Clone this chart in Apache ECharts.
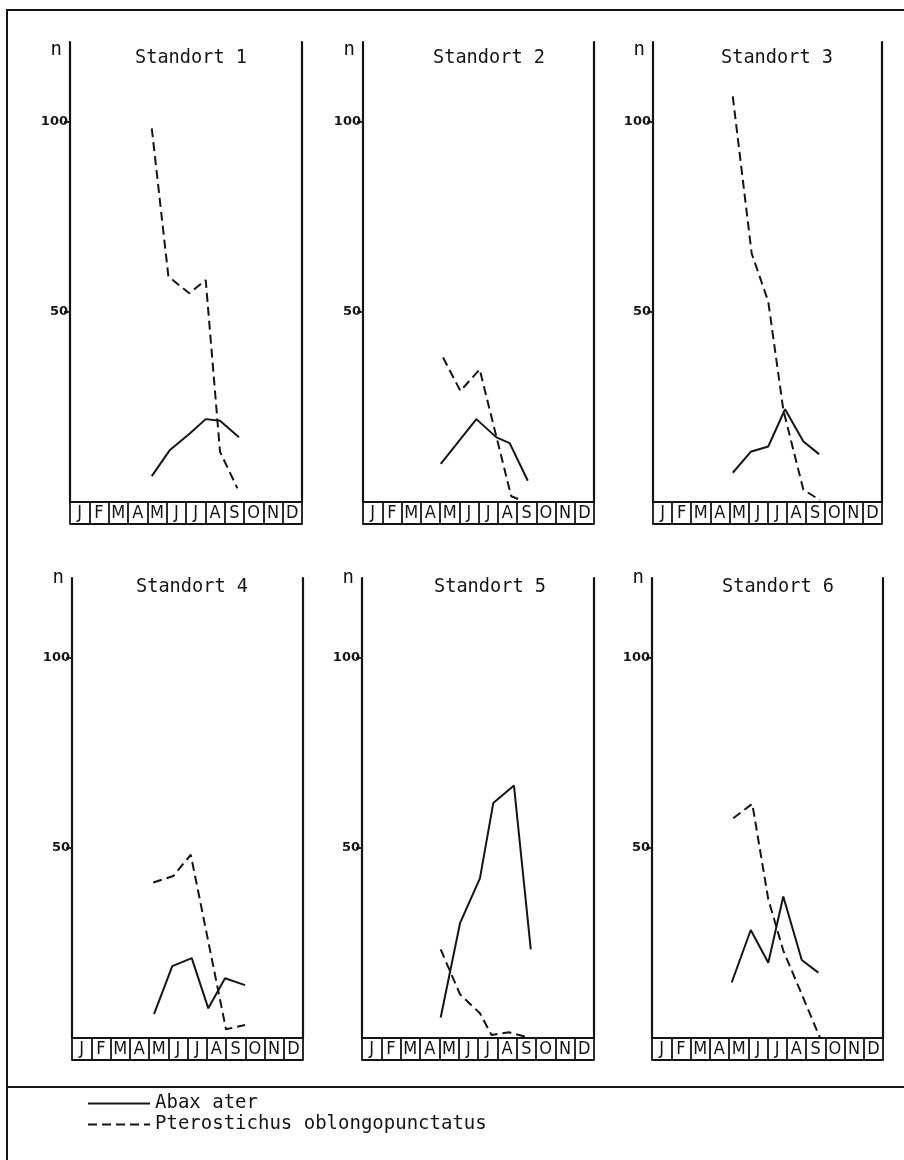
<!DOCTYPE html>
<html>
<head>
<meta charset="utf-8">
<script src="https://cdn.jsdelivr.net/npm/echarts@6/dist/echarts.min.js"></script>
<style>
html,body{margin:0;padding:0;background:#fff;}
#chart{width:904px;height:1160px;}
</style>
</head>
<body>
<div id="chart"></div>
<script>
// ---------------- DATA ----------------
const months = ['J','F','M','A','M','J','J','A','S','O','N','D'];
const yTickValues = [50, 100];
const siteTitles = ['Standort 1','Standort 2','Standort 3','Standort 4','Standort 5','Standort 6'];
const speciesNames = ['Abax ater','Pterostichus oblongopunctatus'];

// sampling dates are in months since 1 January (0 = start of J, 12 = end of D)
const abaxDates1 = [4.23, 5.17, 6.21, 7.02, 7.76, 8.74];
const abaxCounts1 = [6.8, 13.7, 18.1, 21.8, 21.4, 17.0];
const pteroDates1 = [4.23, 5.09, 6.17, 7.02, 7.76, 8.66];
const pteroCounts1 = [98.3, 59.3, 54.9, 58.4, 13.2, 3.6];

const abaxDates2 = [4.04, 5.89, 6.93, 7.62, 8.56];
const abaxCounts2 = [10.0, 21.8, 17.0, 15.5, 5.6];
const pteroDates2 = [4.16, 5.06, 6.06, 7.70, 8.30];
const pteroCounts2 = [38.0, 29.2, 34.9, 1.5, 0.3];

const abaxDates3 = [4.18, 5.12, 6.04, 6.92, 7.88, 8.70];
const abaxCounts3 = [7.7, 13.2, 14.6, 24.4, 15.9, 12.6];
const pteroDates3 = [4.18, 5.17, 6.04, 6.83, 7.88, 8.75];
const pteroCounts3 = [106.7, 65.4, 52.7, 24.2, 3.2, 0.5];

const abaxDates4 = [4.26, 5.21, 6.22, 7.08, 7.95, 8.99];
const abaxCounts4 = [6.3, 18.9, 21.0, 7.8, 15.7, 13.9];
const pteroDates4 = [4.22, 5.26, 6.17, 8.00, 8.99];
const pteroCounts4 = [40.9, 42.6, 48.2, 2.3, 3.4];

const abaxDates5 = [4.07, 5.07, 6.10, 6.79, 7.86, 8.73];
const abaxCounts5 = [5.4, 30.2, 42.0, 61.8, 66.4, 23.3];
const pteroDates5 = [4.07, 5.07, 6.10, 6.70, 7.60, 8.50];
const pteroCounts5 = [23.3, 11.5, 6.5, 0.8, 1.5, 0.3];

const abaxDates6 = [4.14, 5.13, 6.04, 6.82, 7.78, 8.64];
const abaxCounts6 = [14.6, 28.4, 19.8, 37.2, 20.5, 17.2];
const pteroDates6 = [4.22, 5.21, 6.04, 6.82, 7.78, 8.73];
const pteroCounts6 = [57.8, 61.6, 36.5, 23.0, 11.5, 0.0];

const abaxDates = [abaxDates1, abaxDates2, abaxDates3, abaxDates4, abaxDates5, abaxDates6];
const abaxCounts = [abaxCounts1, abaxCounts2, abaxCounts3, abaxCounts4, abaxCounts5, abaxCounts6];
const pteroDates = [pteroDates1, pteroDates2, pteroDates3, pteroDates4, pteroDates5, pteroDates6];
const pteroCounts = [pteroCounts1, pteroCounts2, pteroCounts3, pteroCounts4, pteroCounts5, pteroCounts6];

// ---------------- LAYOUT ----------------
const panels = [
  {left: 70,  top: 42,  width: 232, height: 460, titleX: 191, titleY: 49,  nameGap: -8},
  {left: 363, top: 42,  width: 231, height: 460, titleX: 489, titleY: 49,  nameGap: -8},
  {left: 653, top: 42,  width: 229, height: 460, titleX: 777, titleY: 49,  nameGap: -8},
  {left: 72,  top: 578, width: 231, height: 460, titleX: 192, titleY: 578, nameGap: 0},
  {left: 362, top: 578, width: 232, height: 460, titleX: 490, titleY: 578, nameGap: 0},
  {left: 652, top: 578, width: 231, height: 460, titleX: 778, titleY: 578, nameGap: 0}
];
const INK = '#151515';
const MONO = '"DejaVu Sans Mono", "Liberation Mono", monospace';
const NARROW = '"Liberation Sans Narrow", "DejaVu Sans Condensed", "Liberation Sans", sans-serif';
const dashPattern = [9, 5];

const zip = (xs, ys) => xs.map((x, k) => [x, ys[k]]);

const grid = [], xAxis = [], yAxis = [], series = [], title = [];
panels.forEach((p, i) => {
  grid.push({left: p.left, top: p.top, width: p.width, height: p.height, containLabel: false});
  // data x axis (months as continuous value)
  xAxis.push({type: 'value', gridIndex: i, min: 0, max: 12, show: false});
  // month boxes: top line, separators, labels
  xAxis.push({
    type: 'category', gridIndex: i, data: months, position: 'bottom', boundaryGap: true,
    axisLine: {show: true, onZero: false, lineStyle: {color: INK, width: 2.2}},
    axisTick: {show: true, interval: 0, length: 22, lineStyle: {color: INK, width: 1.8}},
    axisLabel: {interval: 0, margin: 11, verticalAlign: 'middle', fontSize: 18, color: INK, fontFamily: NARROW},
    splitLine: {show: false}
  });
  // bottom line of the month boxes
  xAxis.push({
    type: 'value', gridIndex: i, position: 'bottom', offset: 22, min: 0, max: 12,
    axisLine: {show: true, onZero: false, lineStyle: {color: INK, width: 1.8}},
    axisTick: {show: false}, axisLabel: {show: false}, splitLine: {show: false}
  });
  yAxis.push({
    type: 'value', gridIndex: i, position: 'left', min: 0, max: 121,
    name: 'n', nameLocation: 'end', nameGap: p.nameGap,
    nameTextStyle: {align: 'right', verticalAlign: 'middle', padding: [0, 8, 0, 0], fontFamily: MONO, fontSize: 19, color: INK},
    axisLine: {show: true, onZero: false, lineStyle: {color: INK, width: 2.2}},
    axisTick: {show: true, length: 6, customValues: yTickValues, lineStyle: {color: INK, width: 1.8}},
    axisLabel: {customValues: yTickValues, margin: 2, fontSize: 13, fontWeight: 'bold', color: INK, fontFamily: '"DejaVu Sans", sans-serif'},
    splitLine: {show: false}
  });
  yAxis.push({
    type: 'value', gridIndex: i, position: 'right', min: 0, max: 121,
    axisLine: {show: true, onZero: false, lineStyle: {color: INK, width: 2.2}},
    axisTick: {show: false}, axisLabel: {show: false}, splitLine: {show: false}
  });
  title.push({
    text: siteTitles[i], left: p.titleX, top: p.titleY, textAlign: 'center', padding: 0,
    textStyle: {fontFamily: MONO, fontSize: 18.6, fontWeight: 'normal', color: INK}
  });
  series.push({
    name: speciesNames[0], type: 'line', xAxisIndex: 3 * i, yAxisIndex: 2 * i,
    data: zip(abaxDates[i], abaxCounts[i]), symbol: 'none', silent: true,
    lineStyle: {color: INK, width: 2, type: 'solid'}, itemStyle: {color: INK}
  });
  series.push({
    name: speciesNames[1], type: 'line', xAxisIndex: 3 * i, yAxisIndex: 2 * i,
    data: zip(pteroDates[i], pteroCounts[i]), symbol: 'none', silent: true,
    lineStyle: {color: INK, width: 2, type: dashPattern}, itemStyle: {color: INK}
  });
});

const chart = echarts.init(document.getElementById('chart'), null, {renderer: 'canvas'});
chart.setOption({
  backgroundColor: '#ffffff',
  animation: false,
  title: title,
  grid: grid,
  xAxis: xAxis,
  yAxis: yAxis,
  series: series,
  legend: {
    data: speciesNames, orient: 'vertical', left: 87, top: 1094, padding: 0,
    itemWidth: 62, itemHeight: 12, itemGap: 2, selectedMode: false,
    itemStyle: {opacity: 0},
    textStyle: {fontFamily: MONO, fontSize: 19, color: INK}
  },
  graphic: [
    {type: 'rect', silent: true, shape: {x: 7, y: 10, width: 1000, height: 1200},
     style: {fill: null, stroke: INK, lineWidth: 2}},
    {type: 'line', silent: true, shape: {x1: 7, y1: 1087, x2: 904, y2: 1087},
     style: {stroke: INK, lineWidth: 2}}
  ]
});
</script>
</body>
</html>
